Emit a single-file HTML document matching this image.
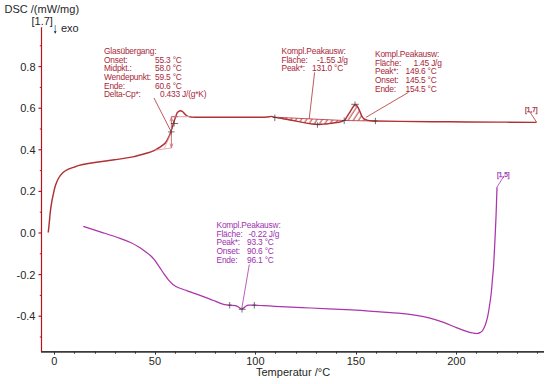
<!DOCTYPE html>
<html><head><meta charset="utf-8"><style>
html,body{margin:0;padding:0;background:#fff;}
svg{display:block;}
text{font-family:"Liberation Sans",sans-serif;}
.ax{font-size:11px;fill:#262626;}
.an{font-size:8.4px;letter-spacing:-0.2px;stroke-width:0px;}
.sm{font-size:6.5px;stroke-width:0.25px;}
</style></head><body>
<svg width="550" height="384" viewBox="0 0 550 384">
<defs><pattern id="hr" patternUnits="userSpaceOnUse" width="4.4" height="10" patternTransform="rotate(33)"><line x1="1" y1="0" x2="1" y2="10" stroke="#b03034" stroke-width="0.95"/></pattern></defs>
<path d="M274.80,117.20 L274.80,117.40 L275.31,117.50 L275.88,117.60 L276.49,117.70 L277.15,117.80 L277.84,117.91 L278.56,118.01 L279.29,118.12 L280.04,118.23 L280.79,118.35 L281.54,118.46 L282.28,118.58 L283.00,118.70 L283.69,118.82 L284.36,118.94 L285.02,119.05 L285.67,119.17 L286.33,119.28 L287.00,119.41 L287.69,119.53 L288.41,119.67 L289.18,119.81 L289.99,119.96 L290.86,120.12 L291.80,120.30 L292.84,120.50 L294.00,120.72 L295.25,120.96 L296.57,121.21 L297.93,121.48 L299.30,121.74 L300.66,122.01 L301.99,122.26 L303.25,122.51 L304.42,122.73 L305.48,122.93 L306.40,123.10 L307.18,123.24 L307.86,123.37 L308.45,123.47 L308.96,123.56 L309.40,123.64 L309.80,123.70 L310.16,123.76 L310.51,123.81 L310.85,123.85 L311.21,123.90 L311.58,123.95 L312.00,124.00 L312.44,124.05 L312.87,124.10 L313.29,124.15 L313.71,124.19 L314.13,124.23 L314.54,124.27 L314.95,124.30 L315.36,124.33 L315.76,124.35 L316.17,124.37 L316.59,124.39 L317.00,124.40 L317.41,124.41 L317.82,124.40 L318.22,124.40 L318.62,124.39 L319.02,124.37 L319.43,124.36 L319.83,124.33 L320.24,124.31 L320.67,124.29 L321.10,124.26 L321.54,124.23 L322.00,124.20 L322.46,124.17 L322.92,124.14 L323.37,124.12 L323.83,124.09 L324.30,124.06 L324.77,124.03 L325.27,123.99 L325.79,123.94 L326.34,123.90 L326.92,123.84 L327.54,123.77 L328.20,123.70 L328.92,123.62 L329.72,123.52 L330.57,123.42 L331.46,123.31 L332.38,123.20 L333.32,123.08 L334.25,122.96 L335.17,122.83 L336.06,122.70 L336.90,122.57 L337.69,122.43 L338.40,122.30 L339.05,122.17 L339.67,122.05 L340.25,121.93 L340.80,121.81 L341.33,121.68 L341.82,121.56 L342.29,121.42 L342.73,121.27 L343.15,121.11 L343.55,120.93 L343.93,120.72 L344.20,120.50 Z" fill="url(#hr)" stroke="none"/>
<path d="M344.20,120.50 L344.30,120.50 L344.64,120.25 L344.94,119.97 L345.21,119.66 L345.46,119.34 L345.68,119.00 L345.88,118.65 L346.07,118.30 L346.26,117.94 L346.44,117.59 L346.62,117.25 L346.80,116.91 L347.00,116.60 L347.20,116.30 L347.39,116.02 L347.57,115.74 L347.75,115.47 L347.92,115.21 L348.09,114.94 L348.27,114.68 L348.44,114.40 L348.62,114.12 L348.80,113.83 L349.00,113.52 L349.20,113.20 L349.41,112.86 L349.63,112.49 L349.86,112.12 L350.10,111.73 L350.33,111.33 L350.58,110.92 L350.82,110.52 L351.06,110.12 L351.30,109.72 L351.54,109.33 L351.77,108.96 L352.00,108.60 L352.23,108.24 L352.45,107.87 L352.68,107.49 L352.90,107.11 L353.13,106.74 L353.35,106.37 L353.57,106.03 L353.79,105.71 L354.00,105.42 L354.20,105.17 L354.40,104.96 L354.60,104.80 L354.79,104.69 L354.97,104.62 L355.14,104.58 L355.31,104.58 L355.48,104.61 L355.64,104.66 L355.80,104.74 L355.96,104.84 L356.11,104.96 L356.27,105.10 L356.44,105.24 L356.60,105.40 L356.77,105.57 L356.94,105.77 L357.10,106.00 L357.27,106.24 L357.44,106.50 L357.61,106.78 L357.78,107.07 L357.95,107.37 L358.11,107.68 L358.28,107.98 L358.44,108.29 L358.60,108.60 L358.76,108.91 L358.91,109.24 L359.07,109.57 L359.22,109.92 L359.37,110.27 L359.53,110.62 L359.67,110.98 L359.82,111.34 L359.97,111.69 L360.11,112.04 L360.26,112.37 L360.40,112.70 L360.54,113.02 L360.67,113.34 L360.79,113.65 L360.91,113.96 L361.04,114.27 L361.16,114.57 L361.28,114.87 L361.41,115.17 L361.54,115.46 L361.68,115.75 L361.84,116.03 L362.00,116.30 L362.17,116.57 L362.35,116.84 L362.54,117.11 L362.73,117.38 L362.93,117.64 L363.13,117.90 L363.34,118.15 L363.56,118.39 L363.78,118.61 L364.02,118.82 L364.25,119.02 L364.50,119.20 L364.76,119.36 L365.02,119.51 L365.29,119.64 L365.57,119.76 L365.86,119.86 L366.16,119.96 L366.46,120.04 L366.76,120.12 L367.07,120.20 L367.38,120.27 L367.69,120.33 L368.00,120.40 L368.32,120.46 L368.64,120.52 L368.98,120.56 L369.31,120.60 L369.66,120.63 L370.00,120.66 L370.34,120.69 L370.69,120.71 L371.02,120.73 L371.36,120.75 L371.68,120.78 L372.00,120.80 L372.24,120.82 L372.37,120.84 L372.42,120.86 L372.43,120.87 L372.43,120.89 L372.47,120.90 L372.58,120.91 L372.80,120.93 L373.16,120.94 L373.71,120.96 L374.47,120.98 L375.40,121.00 Z" fill="url(#hr)" stroke="none"/>
<line x1="274.8" y1="117.2" x2="344.2" y2="120.5" stroke="#b03034" stroke-width="0.8"/>
<line x1="344.2" y1="120.5" x2="375.4" y2="121.0" stroke="#b03034" stroke-width="0.8"/>
<line x1="41.5" y1="27.3" x2="41.5" y2="352" stroke="#b8141e" stroke-width="1.2"/>
<line x1="39.8" y1="337.00" x2="41.5" y2="337.00" stroke="#b8141e" stroke-width="1"/>
<line x1="38.5" y1="316.20" x2="41.5" y2="316.20" stroke="#b8141e" stroke-width="1.2"/>
<text x="35.5" y="320.20" text-anchor="end" class="ax">-0.4</text>
<line x1="39.8" y1="295.40" x2="41.5" y2="295.40" stroke="#b8141e" stroke-width="1"/>
<line x1="38.5" y1="274.60" x2="41.5" y2="274.60" stroke="#b8141e" stroke-width="1.2"/>
<text x="35.5" y="278.60" text-anchor="end" class="ax">-0.2</text>
<line x1="39.8" y1="253.80" x2="41.5" y2="253.80" stroke="#b8141e" stroke-width="1"/>
<line x1="38.5" y1="233.00" x2="41.5" y2="233.00" stroke="#b8141e" stroke-width="1.2"/>
<text x="35.5" y="237.00" text-anchor="end" class="ax">0.0</text>
<line x1="39.8" y1="212.20" x2="41.5" y2="212.20" stroke="#b8141e" stroke-width="1"/>
<line x1="38.5" y1="191.40" x2="41.5" y2="191.40" stroke="#b8141e" stroke-width="1.2"/>
<text x="35.5" y="195.40" text-anchor="end" class="ax">0.2</text>
<line x1="39.8" y1="170.60" x2="41.5" y2="170.60" stroke="#b8141e" stroke-width="1"/>
<line x1="38.5" y1="149.80" x2="41.5" y2="149.80" stroke="#b8141e" stroke-width="1.2"/>
<text x="35.5" y="153.80" text-anchor="end" class="ax">0.4</text>
<line x1="39.8" y1="129.00" x2="41.5" y2="129.00" stroke="#b8141e" stroke-width="1"/>
<line x1="38.5" y1="108.20" x2="41.5" y2="108.20" stroke="#b8141e" stroke-width="1.2"/>
<text x="35.5" y="112.20" text-anchor="end" class="ax">0.6</text>
<line x1="39.8" y1="87.40" x2="41.5" y2="87.40" stroke="#b8141e" stroke-width="1"/>
<line x1="38.5" y1="66.60" x2="41.5" y2="66.60" stroke="#b8141e" stroke-width="1.2"/>
<text x="35.5" y="70.60" text-anchor="end" class="ax">0.8</text>
<line x1="39.8" y1="45.80" x2="41.5" y2="45.80" stroke="#b8141e" stroke-width="1"/>
<line x1="41" y1="351.8" x2="544" y2="351.8" stroke="#3a3a3a" stroke-width="1.8"/>
<line x1="54.50" y1="351" x2="54.50" y2="354.6" stroke="#303030" stroke-width="1"/>
<text x="54.40" y="365.3" text-anchor="middle" class="ax">0</text>
<line x1="74.50" y1="351" x2="74.50" y2="353.7" stroke="#303030" stroke-width="1"/>
<line x1="95.50" y1="351" x2="95.50" y2="353.7" stroke="#303030" stroke-width="1"/>
<line x1="115.50" y1="351" x2="115.50" y2="353.7" stroke="#303030" stroke-width="1"/>
<line x1="135.50" y1="351" x2="135.50" y2="353.7" stroke="#303030" stroke-width="1"/>
<line x1="155.50" y1="351" x2="155.50" y2="354.6" stroke="#303030" stroke-width="1"/>
<text x="154.90" y="365.3" text-anchor="middle" class="ax">50</text>
<line x1="175.50" y1="351" x2="175.50" y2="353.7" stroke="#303030" stroke-width="1"/>
<line x1="195.50" y1="351" x2="195.50" y2="353.7" stroke="#303030" stroke-width="1"/>
<line x1="215.50" y1="351" x2="215.50" y2="353.7" stroke="#303030" stroke-width="1"/>
<line x1="235.50" y1="351" x2="235.50" y2="353.7" stroke="#303030" stroke-width="1"/>
<line x1="255.50" y1="351" x2="255.50" y2="354.6" stroke="#303030" stroke-width="1"/>
<text x="255.40" y="365.3" text-anchor="middle" class="ax">100</text>
<line x1="275.50" y1="351" x2="275.50" y2="353.7" stroke="#303030" stroke-width="1"/>
<line x1="296.50" y1="351" x2="296.50" y2="353.7" stroke="#303030" stroke-width="1"/>
<line x1="316.50" y1="351" x2="316.50" y2="353.7" stroke="#303030" stroke-width="1"/>
<line x1="336.50" y1="351" x2="336.50" y2="353.7" stroke="#303030" stroke-width="1"/>
<line x1="356.50" y1="351" x2="356.50" y2="354.6" stroke="#303030" stroke-width="1"/>
<text x="355.90" y="365.3" text-anchor="middle" class="ax">150</text>
<line x1="376.50" y1="351" x2="376.50" y2="353.7" stroke="#303030" stroke-width="1"/>
<line x1="396.50" y1="351" x2="396.50" y2="353.7" stroke="#303030" stroke-width="1"/>
<line x1="416.50" y1="351" x2="416.50" y2="353.7" stroke="#303030" stroke-width="1"/>
<line x1="436.50" y1="351" x2="436.50" y2="353.7" stroke="#303030" stroke-width="1"/>
<line x1="456.50" y1="351" x2="456.50" y2="354.6" stroke="#303030" stroke-width="1"/>
<text x="456.40" y="365.3" text-anchor="middle" class="ax">200</text>
<line x1="476.50" y1="351" x2="476.50" y2="353.7" stroke="#303030" stroke-width="1"/>
<line x1="497.50" y1="351" x2="497.50" y2="353.7" stroke="#303030" stroke-width="1"/>
<line x1="517.50" y1="351" x2="517.50" y2="353.7" stroke="#303030" stroke-width="1"/>
<line x1="537.50" y1="351" x2="537.50" y2="353.7" stroke="#303030" stroke-width="1"/>
<text x="256" y="376.4" class="ax">Temperatur /°C</text>
<text x="4.5" y="13.2" class="ax">DSC /(mW/mg)</text>
<text x="31.5" y="24.6" class="ax">[1.7]</text>
<text x="61" y="31.8" class="ax">exo</text>
<line x1="55.2" y1="25" x2="55.2" y2="32" stroke="#4a86b0" stroke-width="0.9"/>
<path d="M53.8,31.2 L55.2,33.8 L56.6,31.2 Z" fill="#1a2a3a"/>
<text x="104" y="53.90" class="an" fill="#a8283a" stroke="#a8283a">Glasübergang:</text>
<text x="104" y="62.55" class="an" fill="#a8283a" stroke="#a8283a">Onset:</text>
<text x="155" y="62.55" class="an" fill="#a8283a" stroke="#a8283a">55.3 °C</text>
<text x="104" y="71.20" class="an" fill="#a8283a" stroke="#a8283a">Midpkt.:</text>
<text x="155" y="71.20" class="an" fill="#a8283a" stroke="#a8283a">58.0 °C</text>
<text x="104" y="79.85" class="an" fill="#a8283a" stroke="#a8283a">Wendepunkt:</text>
<text x="155" y="79.85" class="an" fill="#a8283a" stroke="#a8283a">59.5 °C</text>
<text x="104" y="88.50" class="an" fill="#a8283a" stroke="#a8283a">Ende:</text>
<text x="155" y="88.50" class="an" fill="#a8283a" stroke="#a8283a">60.6 °C</text>
<text x="104" y="97.15" class="an" fill="#a8283a" stroke="#a8283a">Delta-Cp*:</text>
<text x="160" y="97.15" class="an" fill="#a8283a" stroke="#a8283a">0.433 J/(g*K)</text>
<text x="281.5" y="53.90" class="an" fill="#a8283a" stroke="#a8283a">Kompl.Peakausw:</text>
<text x="281.5" y="62.55" class="an" fill="#a8283a" stroke="#a8283a">Fläche:</text>
<text x="317" y="62.55" class="an" fill="#a8283a" stroke="#a8283a">-1.55 J/g</text>
<text x="281.5" y="71.20" class="an" fill="#a8283a" stroke="#a8283a">Peak*:</text>
<text x="312" y="71.20" class="an" fill="#a8283a" stroke="#a8283a">131.0 °C</text>
<text x="375" y="57.10" class="an" fill="#a8283a" stroke="#a8283a">Kompl.Peakausw:</text>
<text x="375" y="65.75" class="an" fill="#a8283a" stroke="#a8283a">Fläche:</text>
<text x="413.5" y="65.75" class="an" fill="#a8283a" stroke="#a8283a">1.45 J/g</text>
<text x="375" y="74.40" class="an" fill="#a8283a" stroke="#a8283a">Peak*:</text>
<text x="405.5" y="74.40" class="an" fill="#a8283a" stroke="#a8283a">149.6 °C</text>
<text x="375" y="83.05" class="an" fill="#a8283a" stroke="#a8283a">Onset:</text>
<text x="405.5" y="83.05" class="an" fill="#a8283a" stroke="#a8283a">145.5 °C</text>
<text x="375" y="91.70" class="an" fill="#a8283a" stroke="#a8283a">Ende:</text>
<text x="405.5" y="91.70" class="an" fill="#a8283a" stroke="#a8283a">154.5 °C</text>
<text x="216.5" y="228.10" class="an" fill="#a030b0" stroke="#a030b0">Kompl.Peakausw:</text>
<text x="216.5" y="236.75" class="an" fill="#a030b0" stroke="#a030b0">Fläche:</text>
<text x="248.5" y="236.75" class="an" fill="#a030b0" stroke="#a030b0">-0.22 J/g</text>
<text x="216.5" y="245.40" class="an" fill="#a030b0" stroke="#a030b0">Peak*:</text>
<text x="247" y="245.40" class="an" fill="#a030b0" stroke="#a030b0">93.3 °C</text>
<text x="216.5" y="254.05" class="an" fill="#a030b0" stroke="#a030b0">Onset:</text>
<text x="247" y="254.05" class="an" fill="#a030b0" stroke="#a030b0">90.6 °C</text>
<text x="216.5" y="262.70" class="an" fill="#a030b0" stroke="#a030b0">Ende:</text>
<text x="247" y="262.70" class="an" fill="#a030b0" stroke="#a030b0">96.1 °C</text>
<line x1="154" y1="98" x2="170.8" y2="131" stroke="#b03034" stroke-width="0.8"/>
<line x1="314.6" y1="72.4" x2="309.2" y2="119" stroke="#b03034" stroke-width="0.8"/>
<line x1="408.5" y1="92.3" x2="365.9" y2="117.4" stroke="#b03034" stroke-width="0.8"/>
<line x1="249.3" y1="264.5" x2="242" y2="307.3" stroke="#ac34ac" stroke-width="0.8"/>
<line x1="529.9" y1="112" x2="536.6" y2="122.2" stroke="#b03034" stroke-width="0.8"/>
<line x1="503.7" y1="176.4" x2="496.6" y2="187.8" stroke="#ac34ac" stroke-width="0.8"/>
<text x="525" y="112.4" class="sm" fill="#a8283a" stroke="#a8283a">[1,7]</text>
<text x="497" y="177.3" class="sm" fill="#a030b0" stroke="#a030b0">[1,5]</text>
<path d="M48.25,232.50 C48.42,230.83 48.96,225.92 49.30,222.50 C49.64,219.08 49.88,215.47 50.30,212.00 C50.72,208.53 51.27,204.82 51.80,201.70 C52.33,198.58 52.88,196.03 53.50,193.30 C54.12,190.57 54.63,187.85 55.50,185.30 C56.37,182.75 57.48,180.10 58.70,178.00 C59.92,175.90 61.25,174.13 62.80,172.70 C64.35,171.27 65.92,170.40 68.00,169.40 C70.08,168.40 73.03,167.47 75.30,166.70 C77.57,165.93 78.08,165.55 81.60,164.80 C85.12,164.05 90.92,163.03 96.40,162.20 C101.88,161.37 108.45,160.68 114.50,159.80 C120.55,158.92 127.23,158.03 132.70,156.90 C138.17,155.77 143.67,154.10 147.30,153.00 C150.93,151.90 152.38,151.27 154.50,150.30 C156.62,149.33 158.17,148.47 160.00,147.20 C161.83,145.93 163.98,144.50 165.50,142.70 C167.02,140.90 168.05,138.68 169.10,136.40 C170.15,134.12 171.05,131.28 171.80,129.00 C172.55,126.72 172.98,124.65 173.60,122.70 C174.22,120.75 174.88,118.97 175.50,117.30 C176.12,115.63 176.52,113.80 177.30,112.70 C178.08,111.60 179.30,110.85 180.20,110.70 C181.10,110.55 181.67,111.00 182.70,111.80 C183.73,112.60 185.03,114.63 186.40,115.50 C187.77,116.37 188.63,116.70 190.90,117.00 C193.17,117.30 190.15,117.25 200.00,117.30 C209.85,117.35 239.17,117.32 250.00,117.30 C260.83,117.28 261.42,117.35 265.00,117.20 C268.58,117.05 269.87,116.37 271.50,116.40 C273.13,116.43 272.88,117.02 274.80,117.40 C276.72,117.78 280.17,118.22 283.00,118.70 C285.83,119.18 287.90,119.57 291.80,120.30 C295.70,121.03 303.03,122.48 306.40,123.10 C309.77,123.72 310.23,123.78 312.00,124.00 C313.77,124.22 315.33,124.37 317.00,124.40 C318.67,124.43 320.13,124.32 322.00,124.20 C323.87,124.08 325.47,124.02 328.20,123.70 C330.93,123.38 335.72,122.83 338.40,122.30 C341.08,121.77 342.87,121.45 344.30,120.50 C345.73,119.55 346.18,117.82 347.00,116.60 C347.82,115.38 348.37,114.53 349.20,113.20 C350.03,111.87 351.10,110.00 352.00,108.60 C352.90,107.20 353.83,105.33 354.60,104.80 C355.37,104.27 355.93,104.77 356.60,105.40 C357.27,106.03 357.97,107.38 358.60,108.60 C359.23,109.82 359.83,111.42 360.40,112.70 C360.97,113.98 361.32,115.22 362.00,116.30 C362.68,117.38 363.50,118.52 364.50,119.20 C365.50,119.88 366.75,120.13 368.00,120.40 C369.25,120.67 370.75,120.70 372.00,120.80 C373.25,120.90 370.83,120.90 375.50,121.00 C380.17,121.10 387.58,121.27 400.00,121.40 C412.42,121.53 433.33,121.68 450.00,121.80 C466.67,121.92 485.57,122.00 500.00,122.10 C514.43,122.20 530.50,122.35 536.60,122.40" fill="none" stroke="#b03034" stroke-width="1.45"/>
<path d="M83.30,226.40 C86.38,227.38 95.68,230.32 101.80,232.30 C107.92,234.28 115.20,236.60 120.00,238.30 C124.80,240.00 127.53,241.08 130.60,242.50 C133.67,243.92 135.79,245.17 138.40,246.80 C141.01,248.43 144.25,250.85 146.25,252.30 C148.25,253.75 149.06,254.28 150.40,255.50 C151.74,256.72 153.15,258.20 154.30,259.60 C155.45,261.00 156.35,262.52 157.30,263.90 C158.25,265.28 158.83,266.17 160.00,267.90 C161.17,269.63 162.87,272.27 164.30,274.30 C165.73,276.33 167.17,278.42 168.60,280.10 C170.03,281.78 171.23,283.13 172.90,284.40 C174.57,285.67 176.22,286.63 178.60,287.70 C180.98,288.77 184.08,289.68 187.20,290.80 C190.32,291.92 193.72,293.10 197.30,294.40 C200.88,295.70 205.75,297.48 208.70,298.60 C211.65,299.72 213.13,300.35 215.00,301.10 C216.87,301.85 218.27,302.52 219.90,303.10 C221.53,303.68 223.17,304.25 224.80,304.60 C226.43,304.95 227.92,305.03 229.70,305.20 C231.48,305.37 234.00,305.27 235.50,305.60 C237.00,305.93 237.75,306.63 238.70,307.20 C239.65,307.77 240.38,308.85 241.20,309.00 C242.02,309.15 242.78,308.60 243.60,308.10 C244.42,307.60 245.27,306.48 246.10,306.00 C246.93,305.52 247.23,305.33 248.60,305.20 C249.97,305.07 252.40,305.15 254.30,305.20 C256.20,305.25 256.55,305.30 260.00,305.50 C263.45,305.70 266.52,305.98 275.00,306.40 C283.48,306.82 298.10,307.42 310.90,308.00 C323.70,308.58 340.28,309.25 351.80,309.90 C363.32,310.55 372.27,311.35 380.00,311.90 C387.73,312.45 392.13,312.62 398.20,313.20 C404.27,313.78 411.10,314.58 416.40,315.40 C421.70,316.22 425.47,316.95 430.00,318.10 C434.53,319.25 439.20,320.70 443.60,322.30 C448.00,323.90 452.45,326.13 456.40,327.70 C460.35,329.27 464.53,330.82 467.30,331.70 C470.07,332.58 471.37,332.70 473.00,333.00 C474.63,333.30 475.93,333.57 477.10,333.50 C478.27,333.43 479.13,333.05 480.00,332.60 C480.87,332.15 481.60,331.65 482.30,330.80 C483.00,329.95 483.62,328.72 484.20,327.50 C484.78,326.28 485.22,325.35 485.80,323.50 C486.38,321.65 487.10,319.23 487.70,316.40 C488.30,313.57 488.82,310.32 489.40,306.50 C489.98,302.68 490.68,298.17 491.20,293.50 C491.72,288.83 492.07,283.53 492.50,278.50 C492.93,273.47 493.20,272.77 493.75,263.30 C494.30,253.83 495.26,234.33 495.80,221.70 C496.34,209.07 496.80,193.20 497.00,187.50" fill="none" stroke="#ac34ac" stroke-width="1.25"/>
<line x1="171.4" y1="116.7" x2="189.5" y2="116.7" stroke="#e0a0a4" stroke-width="1"/>
<line x1="171.4" y1="116.7" x2="178" y2="116.7" stroke="#c86068" stroke-width="1"/>
<line x1="155" y1="150.2" x2="171.4" y2="148" stroke="#e0a0a4" stroke-width="0.9"/>
<line x1="164.5" y1="148.2" x2="171" y2="133" stroke="#e0a0a4" stroke-width="0.8"/>
<line x1="171.4" y1="116.7" x2="171.4" y2="148" stroke="#cc6068" stroke-width="0.9"/>
<path d="M169.9,121.5 L171.4,117.2 L172.9,121.5" fill="none" stroke="#d07078" stroke-width="0.8"/>
<path d="M169.9,143.5 L171.4,147.6 L172.9,143.5" fill="none" stroke="#d07078" stroke-width="0.8"/>
<path d="M170.8,123.5 H178.2 M174.1,120.3 V126.6" stroke="#404040" stroke-width="1.0" fill="none" opacity="0.75"/>
<path d="M168.0,131.9 H174.6 M171.1,129.5 V134.5" stroke="#404040" stroke-width="1.0" fill="none" opacity="0.7"/>
<path d="M272.8,117.4 H276.8 M274.8,114.5 V121.1" stroke="#404040" stroke-width="1.0" fill="none" opacity="0.75"/>
<path d="M315.4,124.4 H319.4 M317.4,122.3 V127.8" stroke="#404040" stroke-width="1.0" fill="none" opacity="0.75"/>
<path d="M342.2,120.5 H346.2 M344.2,117.4 V124.0" stroke="#404040" stroke-width="1.0" fill="none" opacity="0.75"/>
<path d="M351.2,104.3 H358.8 M355.0,101.4 V106.6" stroke="#404040" stroke-width="1.0" fill="none" opacity="0.75"/>
<path d="M373.4,121.0 H377.4 M375.4,117.8 V124.2" stroke="#404040" stroke-width="1.0" fill="none" opacity="0.75"/>
<path d="M227.7,305.2 H231.7 M229.7,302.0 V308.5" stroke="#404040" stroke-width="1.0" fill="none" opacity="0.75"/>
<path d="M238.7,309.3 H245.7 M242.0,307.0 V312.6" stroke="#404040" stroke-width="1.0" fill="none" opacity="0.75"/>
<path d="M252.3,305.2 H256.3 M254.3,302.0 V308.5" stroke="#404040" stroke-width="1.0" fill="none" opacity="0.75"/>
</svg>
</body></html>
